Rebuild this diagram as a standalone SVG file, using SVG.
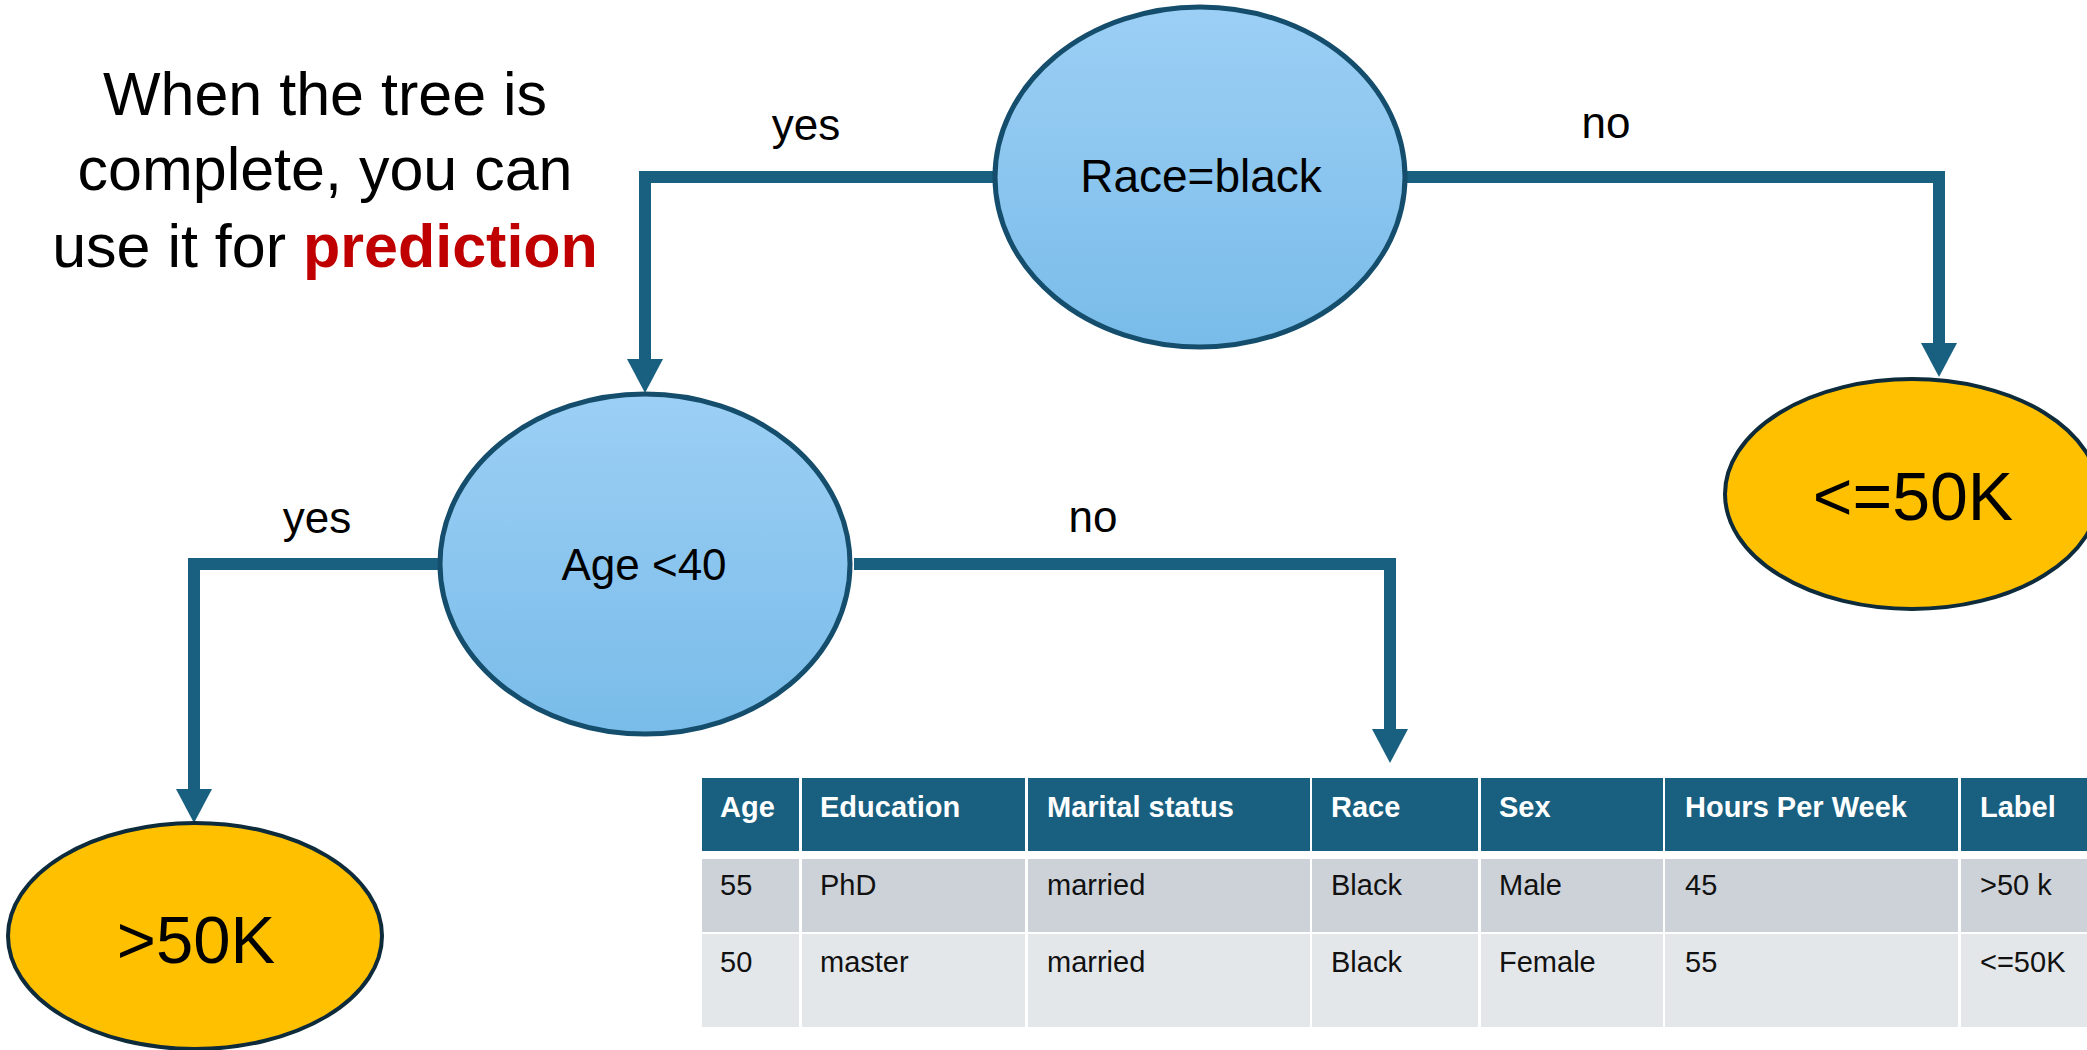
<svg xmlns="http://www.w3.org/2000/svg" width="2087" height="1050" viewBox="0 0 2087 1050">
  <defs>
    <linearGradient id="blueFill" x1="0" y1="0" x2="0" y2="1">
      <stop offset="0" stop-color="#9CCFF5"/>
      <stop offset="1" stop-color="#79BCE9"/>
    </linearGradient>
    <marker id="arrow" viewBox="0 -18 34 36" markerWidth="34" markerHeight="36" refX="0" refY="0" orient="auto" markerUnits="userSpaceOnUse">
      <path d="M0,-18 L34,0 L0,18 Z" fill="#185F80"/>
    </marker>
    <style>
      .decision { fill: url(#blueFill); stroke: #154E6C; stroke-width: 5; }
      .leaf { fill: #FFC000; stroke: #0D2B3B; stroke-width: 4; }
      .conn { fill: none; stroke: #185F80; stroke-width: 12; stroke-linejoin: miter; marker-end: url(#arrow); }
      .lbl { font-family: "Liberation Sans", Arial, sans-serif; font-size: 44px; fill: #000; text-anchor: middle; }
      .title { font-family: "Liberation Sans", Arial, sans-serif; font-size: 61px; fill: #000; text-anchor: middle; }
      .hdr { fill: #185F80; }
      .r1 { fill: #CDD2D9; }
      .r2 { fill: #E4E7EA; }
      .th { font-family: "Liberation Sans", Arial, sans-serif; font-size: 29px; font-weight: bold; fill: #FFFFFF; }
      .td { font-family: "Liberation Sans", Arial, sans-serif; font-size: 29px; fill: #111111; }
    </style>
  </defs>
  <rect width="2087" height="1050" fill="#FFFFFF"/>

  <g id="title">
    <text class="title" x="325" y="115">When the tree is</text>
    <text class="title" x="325" y="190">complete, you can</text>
    <text class="title" x="325" y="267">use it for <tspan font-weight="bold" fill="#C00000">prediction</tspan></text>
  </g>

  <g id="connectors">
    <path class="conn" d="M997,177 H645 V359"/>
    <path class="conn" d="M1403,177 H1939 V343"/>
    <path class="conn" d="M442,564 H194 V789"/>
    <path class="conn" d="M854,564 H1390 V729"/>
    <text class="lbl" x="806" y="140">yes</text>
    <text class="lbl" x="1606" y="138">no</text>
    <text class="lbl" x="317" y="533">yes</text>
    <text class="lbl" x="1093" y="532">no</text>
  </g>

  <g id="node-race">
    <ellipse class="decision" cx="1200" cy="177" rx="205" ry="170"/>
    <text class="lbl" x="1201" y="192" style="font-size:46px">Race=black</text>
  </g>

  <g id="node-age">
    <ellipse class="decision" cx="645" cy="564" rx="205" ry="170"/>
    <text class="lbl" x="644" y="580">Age &lt;40</text>
  </g>

  <g id="leaf-le50k">
    <ellipse class="leaf" cx="1912" cy="494" rx="187" ry="115"/>
    <text class="lbl" x="1913" y="520" style="font-size:68px">&lt;=50K</text>
  </g>

  <g id="leaf-gt50k">
    <ellipse class="leaf" cx="195" cy="936" rx="187" ry="113"/>
    <text class="lbl" x="196" y="963" style="font-size:67px">&gt;50K</text>
  </g>

  <g id="table">
    <rect class="hdr" x="702" y="778" width="97" height="73"/>
    <rect class="hdr" x="802" y="778" width="223" height="73"/>
    <rect class="hdr" x="1028" y="778" width="282" height="73"/>
    <rect class="hdr" x="1312" y="778" width="166" height="73"/>
    <rect class="hdr" x="1481" y="778" width="182" height="73"/>
    <rect class="hdr" x="1665" y="778" width="293" height="73"/>
    <rect class="hdr" x="1961" y="778" width="140" height="73"/>

    <rect class="r1" x="702" y="859" width="97" height="73"/>
    <rect class="r1" x="802" y="859" width="223" height="73"/>
    <rect class="r1" x="1028" y="859" width="282" height="73"/>
    <rect class="r1" x="1312" y="859" width="166" height="73"/>
    <rect class="r1" x="1481" y="859" width="182" height="73"/>
    <rect class="r1" x="1665" y="859" width="293" height="73"/>
    <rect class="r1" x="1961" y="859" width="140" height="73"/>

    <rect class="r2" x="702" y="934" width="97" height="93"/>
    <rect class="r2" x="802" y="934" width="223" height="93"/>
    <rect class="r2" x="1028" y="934" width="282" height="93"/>
    <rect class="r2" x="1312" y="934" width="166" height="93"/>
    <rect class="r2" x="1481" y="934" width="182" height="93"/>
    <rect class="r2" x="1665" y="934" width="293" height="93"/>
    <rect class="r2" x="1961" y="934" width="140" height="93"/>

    <text class="th" x="720" y="817">Age</text>
    <text class="th" x="820" y="817">Education</text>
    <text class="th" x="1047" y="817">Marital status</text>
    <text class="th" x="1331" y="817">Race</text>
    <text class="th" x="1499" y="817">Sex</text>
    <text class="th" x="1685" y="817">Hours Per Week</text>
    <text class="th" x="1980" y="817">Label</text>

    <text class="td" x="720" y="895">55</text>
    <text class="td" x="820" y="895">PhD</text>
    <text class="td" x="1047" y="895">married</text>
    <text class="td" x="1331" y="895">Black</text>
    <text class="td" x="1499" y="895">Male</text>
    <text class="td" x="1685" y="895">45</text>
    <text class="td" x="1980" y="895">&gt;50 k</text>

    <text class="td" x="720" y="972">50</text>
    <text class="td" x="820" y="972">master</text>
    <text class="td" x="1047" y="972">married</text>
    <text class="td" x="1331" y="972">Black</text>
    <text class="td" x="1499" y="972">Female</text>
    <text class="td" x="1685" y="972">55</text>
    <text class="td" x="1980" y="972">&lt;=50K</text>
  </g>
</svg>
